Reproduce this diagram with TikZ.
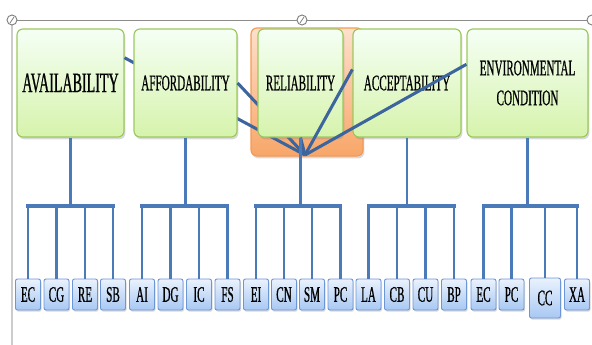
\documentclass[tikz,border=0pt]{standalone}
\usepackage{fontspec}
\newfontfamily\boxfont[FakeStretch=0.5,FakeBold=0.6]{Liberation Serif}
\usepackage{tikz}
\usetikzlibrary{positioning,shadows}
\definecolor{linkblue}{HTML}{4A7AB8}
\definecolor{spokeblue}{HTML}{3D659D}
\definecolor{boxgreen}{HTML}{9CC95E}
\definecolor{leafblue}{HTML}{6D96D6}
\definecolor{frmorange}{HTML}{F59A55}
\tikzset{
    x=0.03cm,
    y=-0.03cm,
    topbox/.style = {
        draw=boxgreen,
        shape=rectangle,
        rounded corners=0.18cm,
        top color=green!4!white,
        bottom color={rgb,255:red,214;green,243;blue,172},
        minimum height=3.24cm,
        inner sep=0pt,
        align=center,
        line width=1pt,
        font=\boxfont\fontsize{19}{25.5}\selectfont,
        drop shadow={shadow xshift=0.04cm, shadow yshift=-0.07cm, opacity=0.3}
    },
    backbox/.style = {
        draw=frmorange,
        shape=rectangle,
        rounded corners=0.18cm,
        top color={rgb,255:red,253;green,224;blue,204},
        bottom color={rgb,255:red,248;green,166;blue,104},
        minimum width=3.36cm,
        minimum height=3.84cm,
        line width=1pt,
        drop shadow={shadow xshift=0.04cm, shadow yshift=-0.07cm, opacity=0.3}
    },
    leaf/.style = {
        draw=leafblue,
        shape=rectangle,
        rounded corners=0.06cm,
        top color={rgb,255:red,234;green,242;blue,253},
        bottom color={rgb,255:red,168;green,200;blue,243},
        minimum width=0.75cm,
        minimum height=0.93cm,
        inner sep=0pt,
        line width=0.8pt,
        font=\boxfont\fontsize{19}{22}\selectfont,
        drop shadow={shadow xshift=0.03cm, shadow yshift=-0.05cm, opacity=0.3}
    },
    spoke/.style = {
        draw=spokeblue,
        line width=2.6pt
    },
    drop/.style = {
        draw=linkblue,
        line width=2.1pt
    },
    bus/.style = {
        draw=linkblue,
        line width=2.8pt,
        line cap=rect
    },
    frameline/.style = {
        draw=black!45,
        line width=0.8pt
    },
    handle/.style = {
        draw=black!50,
        fill=white,
        line width=0.8pt
    }
}
\begin{document}
\begin{tikzpicture}
                \useasboundingbox (0,0) rectangle (592,345);

                % selection frame
                \coordinate (frmtl) at (12,20);
                \coordinate (frmtm) at (302,20);
                \coordinate (frmtr) at (592,20);
                \coordinate (frmbl) at (12,345);
                \path[draw=black!20, line width=1.6pt] (frmtl) -- (frmbl);
                \path[frameline] (frmtl) -- (frmtr);
                \path[handle] (frmtl) circle (0.15cm);
                \path[handle] (frmtm) circle (0.15cm);
                \path[handle] (frmtr) circle (0.15cm);
                \path[draw=black!50, line width=0.6pt] (frmtl) ++(-2,3) -- ++(4,-6);
                \path[draw=black!50, line width=0.6pt] (frmtm) ++(-2,3) -- ++(4,-6);

                \coordinate (hub) at (305,155);
                \coordinate (bus) at (0,206);

                \node[backbox] (relifrm) at (307,92) {};

                \node[topbox, minimum width=3.21cm, font=\boxfont\fontsize{24}{30}\selectfont] (avail) at (70.5,83) {AVAILABILITY};
                \path[spoke] (avail.25) -- (hub);
                \node[topbox, minimum width=3.09cm] (afford) at (185.5,83) {AFFORDABILITY};
                \path[spoke] (afford.east) -- (hub);

                \node[topbox, minimum width=2.55cm] (reli) at (300.5,83) {RELIABILITY};
                \node[topbox, minimum width=3.24cm] (accept) at (407,83) {ACCEPTABILITY};
                \node[topbox, minimum width=3.63cm] (envir) at (527.5,83) {ENVIRONMENTAL\\CONDITION};

                \path[spoke] (reli.south) -- (hub);
                \path[spoke] (accept.166) -- (hub);
                \path[spoke] (envir.163) -- (hub);

                % leaves
                \node[leaf] (ec) at (28,294.5) {EC};
                \node[leaf] (cg) at (56.5,294.5) {CG};
                \node[leaf] (re) at (85,294.5) {RE};
                \node[leaf] (sb) at (113,294.5) {SB};
                \node[leaf] (ai) at (142,294.5) {AI};
                \node[leaf] (dg) at (170.5,294.5) {DG};
                \node[leaf] (ic) at (199,294.5) {IC};
                \node[leaf] (fs) at (227.5,294.5) {FS};
                \node[leaf] (ei) at (256,294.5) {EI};
                \node[leaf] (cn) at (284,294.5) {CN};
                \node[leaf] (sm) at (312,294.5) {SM};
                \node[leaf] (pcr) at (340.5,294.5) {PC};
                \node[leaf] (la) at (368.5,294.5) {LA};
                \node[leaf] (cb) at (397,294.5) {CB};
                \node[leaf] (cu) at (425.5,294.5) {CU};
                \node[leaf] (bp) at (454,294.5) {BP};
                \node[leaf] (ece) at (483.5,294.5) {EC};
                \node[leaf] (pce) at (511.5,294.5) {PC};
                \node[leaf, minimum width=0.93cm, minimum height=1.2cm] (cc) at (545,298) {CC};
                \node[leaf] (xa) at (577,294.5) {XA};

                % trunks
                \path[drop] (avail.south) -- (avail.south |- bus);
                \path[drop] (afford.south) -- (afford.south |- bus);
                \path[drop] (reli.south) -- (reli.south |- bus);
                \path[drop] (accept.south) -- (accept.south |- bus);
                \path[drop] (envir.south) -- (envir.south |- bus);

                % drops
                \path[drop] (ec.north |- bus) -- (ec.north);
                \path[drop] (cg.north |- bus) -- (cg.north);
                \path[drop] (re.north |- bus) -- (re.north);
                \path[drop] (sb.north |- bus) -- (sb.north);
                \path[drop] (ai.north |- bus) -- (ai.north);
                \path[drop] (dg.north |- bus) -- (dg.north);
                \path[drop] (ic.north |- bus) -- (ic.north);
                \path[drop] (fs.north |- bus) -- (fs.north);
                \path[drop] (ei.north |- bus) -- (ei.north);
                \path[drop] (cn.north |- bus) -- (cn.north);
                \path[drop] (sm.north |- bus) -- (sm.north);
                \path[drop] (pcr.north |- bus) -- (pcr.north);
                \path[drop] (la.north |- bus) -- (la.north);
                \path[drop] (cb.north |- bus) -- (cb.north);
                \path[drop] (cu.north |- bus) -- (cu.north);
                \path[drop] (bp.north |- bus) -- (bp.north);
                \path[drop] (ece.north |- bus) -- (ece.north);
                \path[drop] (pce.north |- bus) -- (pce.north);
                \path[drop] (cc.north |- bus) -- (cc.north);
                \path[drop] (xa.north |- bus) -- (xa.north);

                \path[bus] (ec.north |- bus) -- (sb.north |- bus);
                \path[bus] (ai.north |- bus) -- (fs.north |- bus);
                \path[bus] (ei.north |- bus) -- (pcr.north |- bus);
                \path[bus] (la.north |- bus) -- (bp.north |- bus);
                \path[bus] (ece.north |- bus) -- (xa.north |- bus);
\end{tikzpicture}
\end{document}
